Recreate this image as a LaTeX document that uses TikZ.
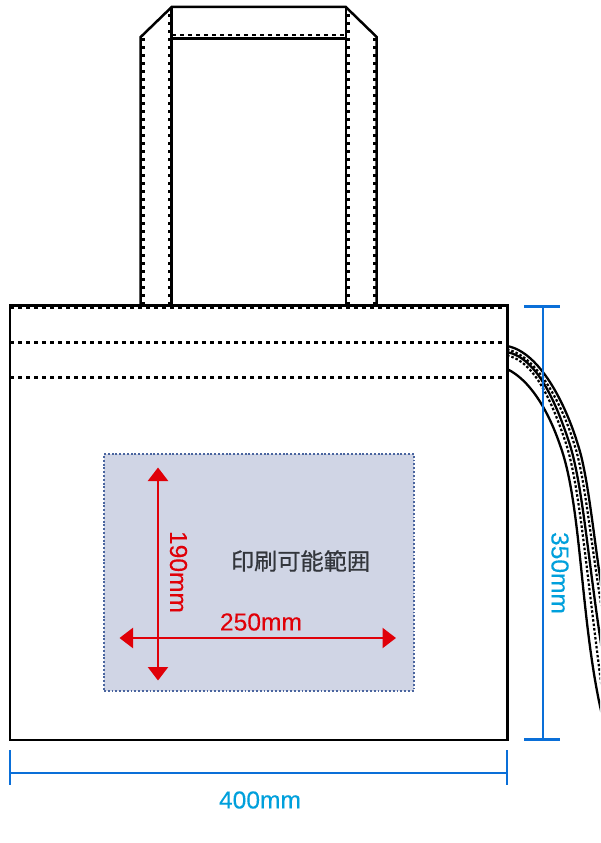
\documentclass[tikz,border=0pt]{standalone}
\usepackage{fontspec}
\setmainfont[FakeBold=0.15]{Liberation Sans}
\newfontfamily\cjkfont[FakeBold=0.6]{Noto Sans CJK JP}
\usetikzlibrary{arrows.meta}
\definecolor{dimline}{HTML}{0A6FD8}
\definecolor{dimtext}{HTML}{00A0DC}
\definecolor{redmark}{HTML}{E00008}
\definecolor{areafill}{HTML}{D0D5E5}
\definecolor{areaedge}{HTML}{4A659F}
\definecolor{cjktext}{HTML}{33363C}
\tikzset{
  bagline/.style={draw=black,line width=2.5pt,line join=miter},
  seam/.style={draw=black,line width=2.2pt,dash pattern=on 4pt off 4pt},
  handleseam/.style={draw=black,line width=2.8pt,dash pattern=on 3pt off 5pt},
  strapline/.style={draw=black,line width=2.3pt},
  strapseam/.style={draw=black,line width=2.2pt,dash pattern=on 2.5pt off 2pt},
  dimrule/.style={draw=dimline,line width=2.3pt},
  dimlabel/.style={text=dimtext,font=\fontsize{24.6pt}{25pt}\selectfont,inner sep=0pt},
  redlabel/.style={text=redmark,font=\fontsize{24.6pt}{25pt}\selectfont,inner sep=0pt},
  redarrow/.style={draw=redmark,line width=2.4pt,{Triangle[length=13.5pt,width=20pt]}-{Triangle[length=13.5pt,width=20pt]}},
}
\begin{document}
\begin{tikzpicture}[x=1pt,y=-1pt]
\useasboundingbox (0,0) rectangle (600,843);
\fill[white] (0,0) rectangle (600,843);
% named points
\coordinate (bagTL) at (10,305.4);
\coordinate (bagBR) at (507.3,740);
\coordinate (hOL) at (140.7,305.4);
\coordinate (hOLs) at (140.7,37);
\coordinate (hIL) at (171.7,305.4);
\coordinate (hTL) at (171.7,7);
\coordinate (hTR) at (345.8,7);
\coordinate (hIR) at (345.8,305.4);
\coordinate (hORs) at (376.7,37);
\coordinate (hOR) at (376.7,305.4);
\coordinate (crossL) at (171.7,38.3);
\coordinate (crossR) at (345.8,38.3);
% handle
\draw[handleseam] (143.3,305) -- (143.3,38);
\draw[handleseam] (169.3,305) -- (169.3,9);
\draw[handleseam] (348.2,305) -- (348.2,9);
\draw[handleseam] (374.3,305) -- (374.3,38);
\draw[seam] (172,35) -- (346,35);
\draw[bagline] (hOL) -- (hOLs) -- (hTL) -- (hTR) -- (hORs) -- (hOR);
\draw[bagline] (hIL) -- (hTL);
\draw[bagline] (hIR) -- (hTR);
\draw[bagline] (crossL) -- (crossR);
% strap
\begin{scope}
\clip (507,300) rectangle (600,730);
\draw[strapline] (507,346) .. controls (540,352) and (566,405) .. (578,445) .. controls (588,475) and (594,540) .. (602,590);
\draw[strapseam] (507,349.5) .. controls (537,355.5) and (562.5,405) .. (574.5,445) .. controls (584.5,475) and (590.5,540) .. (602,610);
\draw[strapline] (507,352) .. controls (537,358) and (556,402) .. (570,445) .. controls (583,488) and (588,560) .. (602,650);
\draw[strapseam] (507,355.5) .. controls (535,361) and (552.5,403) .. (566.5,445) .. controls (579.5,488) and (585,560) .. (602,690);
\draw[strapline] (507,369) .. controls (530,380) and (548,410) .. (560,445) .. controls (582,505) and (580,620) .. (602,715);
\end{scope}
% bag body
\draw[seam] (10,307.8) -- (507,307.8);
\draw[seam] (10,342.5) -- (507,342.5);
\draw[seam] (10,377.5) -- (507,377.5);
\draw[bagline] (bagTL) rectangle (bagBR);
% print area
\node[draw=areaedge,fill=areafill,line width=1.7pt,dash pattern=on 1.9pt off 1.9pt,minimum width=310.3pt,minimum height=236.4pt,inner sep=0pt,outer sep=0pt] (area) at (259.1,572.5) {};
\node[inner sep=0pt,text=cjktext,font=\cjkfont\fontsize{23.2pt}{24pt}\selectfont] (printlabel) at (300.5,561) {印刷可能範囲};
% red arrows
\coordinate (vT) at (158,467.5);
\coordinate (vB) at (158,680.5);
\coordinate (hL) at (119.5,638);
\coordinate (hR) at (396,638);
\draw[redarrow] (vT) -- (vB);
\draw[redarrow] (hL) -- (hR);
\node[redlabel,rotate=-90] (vlabel) at (178.5,572) {190mm};
\node[redlabel] (hlabel) at (261,622) {250mm};
% dimensions
\coordinate (rT) at (543,306.5);
\coordinate (rB) at (543,739.5);
\coordinate (rTa) at (524,306.5);
\coordinate (rTb) at (560,306.5);
\coordinate (rBa) at (524,739.5);
\coordinate (rBb) at (560,739.5);
\draw[dimrule] (rT) -- (rB);
\draw[dimrule] (rTa) -- (rTb);
\draw[dimrule] (rBa) -- (rBb);
\node[dimlabel,rotate=-90] (rlabel) at (560,573) {350mm};
\coordinate (bL) at (10,773);
\coordinate (bR) at (507,773);
\coordinate (bLa) at (10,750);
\coordinate (bLb) at (10,785);
\coordinate (bRa) at (507,750);
\coordinate (bRb) at (507,785);
\draw[dimrule] (bL) -- (bR);
\draw[dimrule] (bLa) -- (bLb);
\draw[dimrule] (bRa) -- (bRb);
\node[dimlabel] (blabel) at (260,800) {400mm};
\end{tikzpicture}
\end{document}
